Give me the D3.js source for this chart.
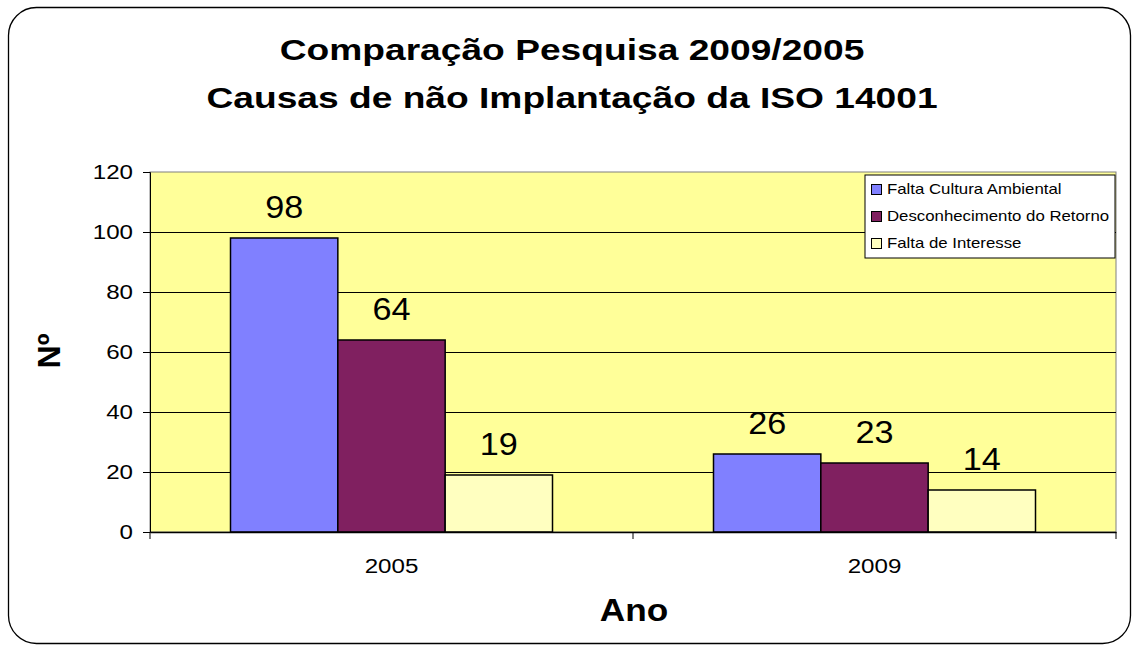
<!DOCTYPE html>
<html>
<head>
<meta charset="utf-8">
<script src="https://cdn.jsdelivr.net/npm/d3@7"></script>
<style>
  body { margin: 0; background: #fff; }
  text { font-family: "Liberation Sans", Arial, sans-serif; }
</style>
</head>
<body>
<div id="graph"></div>
<script>
const years = ['2005', '2009']
const causes = ['Falta Cultura Ambiental', 'Desconhecimento do Retorno', 'Falta de Interesse']
const values = {
    'Falta Cultura Ambiental': [98, 26],
    'Desconhecimento do Retorno': [64, 23],
    'Falta de Interesse': [19, 14],
}
const yTicks = [0, 20, 40, 60, 80, 100, 120]
const colors = ['#8080FF', '#802060', '#FFFFC0']

const w = 1133
const h = 647
const plot = { left: 150, top: 172, right: 1116, bottom: 532 }

const svg = d3.select('#graph').append('svg').attr('width', w).attr('height', h)

// the original's text is drawn a bit wider than normal Arial
function wideText(g, x, y, sx, size, str, bold) {
    return g.append('text')
        .attr('transform', `translate(${x},${y}) scale(${sx},1)`)
        .attr('text-anchor', 'middle')
        .attr('font-size', size + 'px')
        .attr('font-weight', bold ? 'bold' : 'normal')
        .text(str)
}

svg.append('rect')
    .attr('x', 8.5).attr('y', 7.5)
    .attr('width', 1122).attr('height', 636)
    .attr('rx', 28)
    .attr('fill', 'white')
    .attr('stroke', '#000')
    .attr('stroke-width', 1.3)

const x0 = d3.scaleBand().domain(years).range([plot.left, plot.right]).paddingInner(0).paddingOuter(0)
const x1 = d3.scaleBand().domain(causes).range([0, x0.bandwidth()]).paddingInner(0).paddingOuter(0.75)
const y = d3.scaleLinear().domain([0, 120]).range([plot.bottom, plot.top])

svg.append('rect')
    .attr('x', plot.left).attr('y', plot.top)
    .attr('width', plot.right - plot.left).attr('height', plot.bottom - plot.top)
    .attr('fill', '#FFFF99')
    .attr('stroke', '#808080')

// gridlines
svg.append('g')
    .selectAll('line')
    .data(yTicks.filter(d => d > 0 && d < 120))
    .enter()
    .append('line')
    .attr('x1', plot.left).attr('x2', plot.right)
    .attr('y1', d => y(d) + 0.5).attr('y2', d => y(d) + 0.5)
    .attr('stroke', '#000')

// bars
const groups = svg.append('g')
    .selectAll('g')
    .data(years)
    .enter()
    .append('g')
    .attr('transform', d => `translate(${x0(d)},0)`)

groups.selectAll('rect')
    .data((yr, i) => causes.map((c, k) => ({ cause: c, value: values[c][i], k })))
    .enter()
    .append('rect')
    .attr('x', d => x1(d.cause))
    .attr('y', d => y(d.value))
    .attr('width', x1.bandwidth())
    .attr('height', d => y(0) - y(d.value))
    .attr('fill', d => colors[d.k])
    .attr('stroke', '#000')
    .attr('stroke-width', 1.5)

groups.each(function (yr, i) {
    const g = d3.select(this)
    causes.forEach(c => {
        wideText(g, x1(c) + x1.bandwidth() / 2, y(values[c][i]) - 20, 1.07, 32, values[c][i], false)
    })
})

// axes
const tickSx = 1.15
const yAxis = svg.append('g')
    .attr('transform', `translate(${plot.left},0)`)
    .call(d3.axisLeft(y).tickValues(yTicks).tickSize(7).tickPadding(8))
yAxis.select('.domain').attr('stroke', '#000')
yAxis.selectAll('.tick line').attr('stroke', '#000')
yAxis.selectAll('text').attr('font-size', '21px').attr('fill', '#000')
    .style('font-family', '"Liberation Sans", Arial, sans-serif')
    .attr('x', -17 / tickSx)
    .attr('transform', `scale(${tickSx},1)`)

const xAxis = svg.append('g')
    .attr('transform', `translate(0,${plot.bottom})`)
    .call(d3.axisBottom(x0).tickSize(0).tickPadding(26))
xAxis.select('.domain').attr('stroke', '#000').attr('stroke-width', 1.5)
xAxis.selectAll('text').attr('font-size', '21px').attr('fill', '#000')
    .style('font-family', '"Liberation Sans", Arial, sans-serif')
    .attr('transform', `scale(${tickSx},1)`)

// category separator ticks on x axis
svg.append('g')
    .selectAll('line')
    .data([plot.left, x0('2009'), plot.right])
    .enter()
    .append('line')
    .attr('x1', d => d).attr('x2', d => d)
    .attr('y1', plot.bottom).attr('y2', plot.bottom + 7)
    .attr('stroke', '#000')

// titles
wideText(svg, 572, 60, 1.26, 29.5, 'Comparação Pesquisa 2009/2005', true)
wideText(svg, 572, 108, 1.26, 29.5, 'Causas de não Implantação da ISO 14001', true)
wideText(svg, 634, 621, 1.1, 32, 'Ano', true)

svg.append('text')
    .attr('transform', 'translate(60,351) rotate(-90)')
    .attr('text-anchor', 'middle')
    .attr('font-size', '32px').attr('font-weight', 'bold')
    .text('Nº')

// legend
const lg = svg.append('g').attr('transform', 'translate(865,175)')
lg.append('rect')
    .attr('width', 250).attr('height', 83)
    .attr('fill', '#fff')
    .attr('stroke', '#000')
lg.selectAll('.legend-item')
    .data(causes)
    .enter()
    .append('rect')
    .attr('class', 'legend-item')
    .attr('x', 6.5).attr('y', (d, i) => 9.5 + i * 27)
    .attr('width', 10).attr('height', 10)
    .attr('fill', (d, i) => colors[i])
    .attr('stroke', '#000')
lg.selectAll('.legend-label')
    .data(causes)
    .enter()
    .append('text')
    .attr('class', 'legend-label')
    .attr('transform', (d, i) => `translate(22,${19 + i * 27}) scale(1.2,1)`)
    .attr('font-size', '14px')
    .text(d => d)
</script>
</body>
</html>
